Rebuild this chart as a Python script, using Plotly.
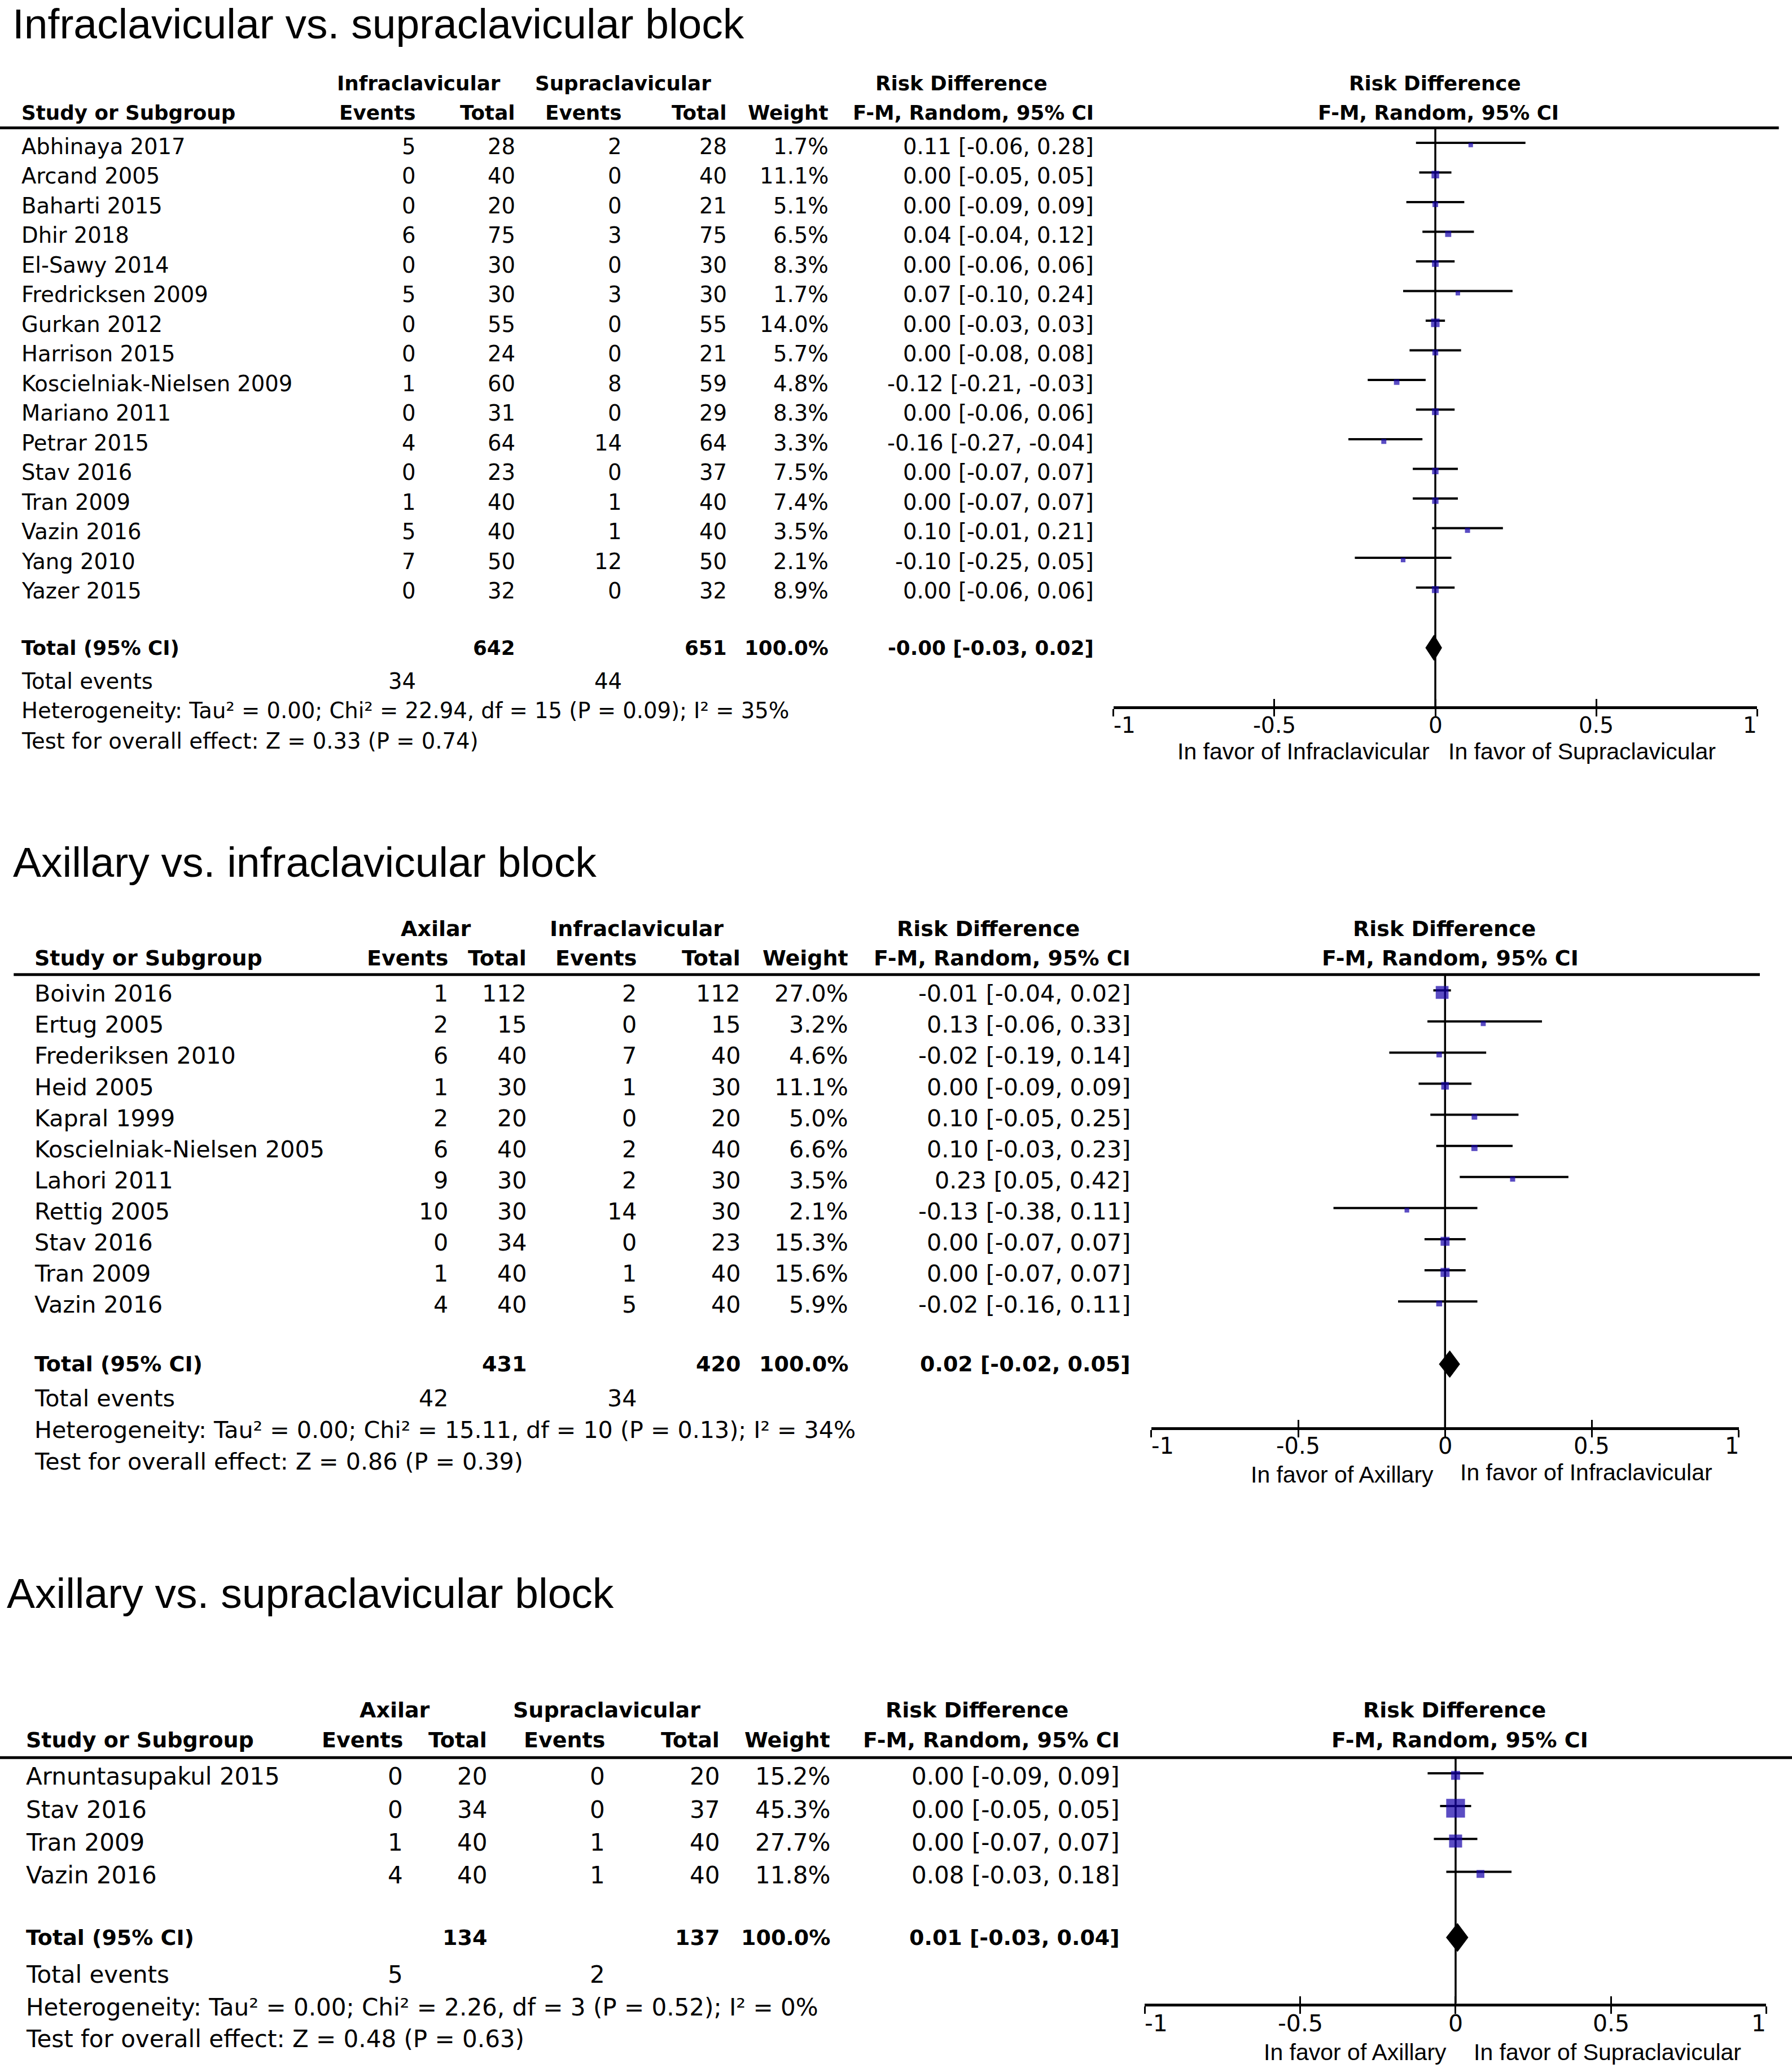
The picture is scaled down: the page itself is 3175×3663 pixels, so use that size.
import plotly.graph_objects as go

# ---------------- data ----------------
titles = ["Infraclavicular vs. supraclavicular block",
          "Axillary vs. infraclavicular block",
          "Axillary vs. supraclavicular block"]
group_a = ["Infraclavicular", "Axilar", "Axilar"]
group_b = ["Supraclavicular", "Infraclavicular", "Supraclavicular"]
favor_left = ["In favor of Infraclavicular", "In favor of Axillary", "In favor of Axillary"]
favor_right = ["In favor of Supraclavicular", "In favor of Infraclavicular", "In favor of Supraclavicular"]
col_headers = ["Study or Subgroup", "Events", "Total", "Events", "Total", "Weight", "F-M, Random, 95% CI"]
effect_label = "Risk Difference"
method_label = "F-M, Random, 95% CI"
tick_vals = [-1, -0.5, 0, 0.5, 1]
tick_text = ["-1", "-0.5", "0", "0.5", "1"]

studies1 = ["Abhinaya 2017", "Arcand 2005", "Baharti 2015", "Dhir 2018", "El-Sawy 2014",
            "Fredricksen 2009", "Gurkan 2012", "Harrison 2015", "Koscielniak-Nielsen 2009",
            "Mariano 2011", "Petrar 2015", "Stav 2016", "Tran 2009", "Vazin 2016",
            "Yang 2010", "Yazer 2015"]
events1_a = [5, 0, 0, 6, 0, 5, 0, 0, 1, 0, 4, 0, 1, 5, 7, 0]
total1_a = [28, 40, 20, 75, 30, 30, 55, 24, 60, 31, 64, 23, 40, 40, 50, 32]
events1_b = [2, 0, 0, 3, 0, 3, 0, 0, 8, 0, 14, 0, 1, 1, 12, 0]
total1_b = [28, 40, 21, 75, 30, 30, 55, 21, 59, 29, 64, 37, 40, 40, 50, 32]
weight1 = [1.7, 11.1, 5.1, 6.5, 8.3, 1.7, 14.0, 5.7, 4.8, 8.3, 3.3, 7.5, 7.4, 3.5, 2.1, 8.9]
rd1 = [0.11, 0.00, 0.00, 0.04, 0.00, 0.07, 0.00, 0.00, -0.12, 0.00, -0.16, 0.00, 0.00, 0.10, -0.10, 0.00]
lo1 = [-0.06, -0.05, -0.09, -0.04, -0.06, -0.10, -0.03, -0.08, -0.21, -0.06, -0.27, -0.07, -0.07, -0.01, -0.25, -0.06]
hi1 = [0.28, 0.05, 0.09, 0.12, 0.06, 0.24, 0.03, 0.08, -0.03, 0.06, -0.04, 0.07, 0.07, 0.21, 0.05, 0.06]

studies2 = ["Boivin 2016", "Ertug 2005", "Frederiksen 2010", "Heid 2005", "Kapral 1999",
            "Koscielniak-Nielsen 2005", "Lahori 2011", "Rettig 2005", "Stav 2016",
            "Tran 2009", "Vazin 2016"]
events2_a = [1, 2, 6, 1, 2, 6, 9, 10, 0, 1, 4]
total2_a = [112, 15, 40, 30, 20, 40, 30, 30, 34, 40, 40]
events2_b = [2, 0, 7, 1, 0, 2, 2, 14, 0, 1, 5]
total2_b = [112, 15, 40, 30, 20, 40, 30, 30, 23, 40, 40]
weight2 = [27.0, 3.2, 4.6, 11.1, 5.0, 6.6, 3.5, 2.1, 15.3, 15.6, 5.9]
rd2 = [-0.01, 0.13, -0.02, 0.00, 0.10, 0.10, 0.23, -0.13, 0.00, 0.00, -0.02]
lo2 = [-0.04, -0.06, -0.19, -0.09, -0.05, -0.03, 0.05, -0.38, -0.07, -0.07, -0.16]
hi2 = [0.02, 0.33, 0.14, 0.09, 0.25, 0.23, 0.42, 0.11, 0.07, 0.07, 0.11]

studies3 = ["Arnuntasupakul 2015", "Stav 2016", "Tran 2009", "Vazin 2016"]
events3_a = [0, 0, 1, 4]
total3_a = [20, 34, 40, 40]
events3_b = [0, 0, 1, 1]
total3_b = [20, 37, 40, 40]
weight3 = [15.2, 45.3, 27.7, 11.8]
rd3 = [0.00, 0.00, 0.00, 0.08]
lo3 = [-0.09, -0.05, -0.07, -0.03]
hi3 = [0.09, 0.05, 0.07, 0.18]

pooled_n_a = [642, 431, 134]
pooled_n_b = [651, 420, 137]
pooled_weight = [100.0, 100.0, 100.0]
pooled_rd = [-0.004, 0.016, 0.006]
pooled_lo = [-0.03, -0.02, -0.03]
pooled_hi = [0.02, 0.05, 0.04]
pooled_events_a = [34, 42, 5]
pooled_events_b = [44, 34, 2]
het_tau2 = [0.00, 0.00, 0.00]
het_chi2 = [22.94, 15.11, 2.26]
het_df = [15, 10, 3]
het_p = [0.09, 0.13, 0.52]
het_i2 = [35, 34, 0]
overall_z = [0.33, 0.86, 0.48]
overall_p = [0.74, 0.39, 0.63]

# ---------------- layout geometry (reference pixels / 2.3346) ----------------
W, H = 3175, 3663
WD = 1360.0
HD = H * WD / W
TABLE = "DejaVu Sans"
SANS = "Liberation Sans"
MARK = "#1400AA"

geo = [
    dict(title_x=9.6, title_y=18, hdr1=63, hdr2=85.3, line_y=97, line_x0=0, line_x1=1350,
         row0=111, step=22.49, total_y=491.5, events_y=517, het_y=539, test_y=562,
         name_x=16.2, cols=[315.5, 391, 472, 551.6, 629, 830], grpA=317.7, grpB=473, rdh=729.5,
         xm1=845, xp1=1333.6, axis_y=536, tick_y=550.4, favL=1085, favR=1099, fav_yL=570, fav_yR=570,
         fhdr1=1089, fhdr2=1091.6, fs=38.5, fb=35.7, ft=39),
    dict(title_x=10, title_y=654, hdr1=704.8, hdr2=727, line_y=739.4, line_x0=10.4, line_x1=1335.6,
         row0=754, step=23.6, total_y=1035, events_y=1061, het_y=1085, test_y=1109,
         name_x=26, cols=[340, 399.5, 483, 562, 644, 858], grpA=331, grpB=483, rdh=750,
         xm1=873.8, xp1=1319.6, axis_y=1083, tick_y=1097, favL=1088, favR=1108, fav_yL=1119, fav_yR=1117,
         fhdr1=1096, fhdr2=1100.5, fs=41.2, fb=38, ft=40),
    dict(title_x=5, title_y=1209, hdr1=1297.5, hdr2=1320, line_y=1333.6, line_x0=0, line_x1=1360,
         row0=1348, step=24.93, total_y=1470, events_y=1498, het_y=1523, test_y=1547,
         name_x=19.7, cols=[306, 369.5, 459, 546, 630, 850], grpA=299.5, grpB=460.5, rdh=741.5,
         xm1=868.9, xp1=1340.5, axis_y=1520, tick_y=1535, favL=1098, favR=1118.6, fav_yL=1557, fav_yR=1557,
         fhdr1=1104, fhdr2=1108, fs=42, fb=38, ft=41),
]

panels = [
    dict(names=studies1, ea=events1_a, ta=total1_a, eb=events1_b, tb=total1_b, w=weight1, rd=rd1, lo=lo1, hi=hi1),
    dict(names=studies2, ea=events2_a, ta=total2_a, eb=events2_b, tb=total2_b, w=weight2, rd=rd2, lo=lo2, hi=hi2),
    dict(names=studies3, ea=events3_a, ta=total3_a, eb=events3_b, tb=total3_b, w=weight3, rd=rd3, lo=lo3, hi=hi3),
]

annotations, shapes, traces = [], [], []
layout_axes = {}


def txt(xd, yd, s, size, anchor="left", bold=False, family=TABLE, xref="paper", xval=None, xshift=0):
    annotations.append(dict(
        x=(xd / WD) if xref == "paper" else xval, y=1 - yd / HD, xref=xref, yref="paper",
        text=f"<b>{s}</b>" if bold else s, showarrow=False, xanchor=anchor, yanchor="middle",
        xshift=xshift, borderpad=0, borderwidth=0,
        font=dict(family=family, size=size, color="black")))


def ci(rd, lo, hi):
    return f"{rd:.2f} [{lo:.2f}, {hi:.2f}]"


for n, (p, g) in enumerate(zip(panels, geo), start=1):
    xn = "x" if n == 1 else f"x{n}"
    yn = "y" if n == 1 else f"y{n}"
    xo = f"x{n + 3}"
    fs, fb = g["fs"], g["fb"]
    c = g["cols"]

    # title
    txt(g["title_x"], g["title_y"], titles[n - 1], 75, family=SANS)
    # headers
    txt(g["grpA"], g["hdr1"], group_a[n - 1], fb, "center", True)
    txt(g["grpB"], g["hdr1"], group_b[n - 1], fb, "center", True)
    txt(g["rdh"], g["hdr1"], effect_label, fb, "center", True)
    txt(g["fhdr1"], g["hdr1"], effect_label, fb, "center", True)
    txt(g["name_x"], g["hdr2"], col_headers[0], fb, "left", True)
    for j in range(6):
        txt(c[j], g["hdr2"], col_headers[j + 1], fb, "right", True)
    txt(g["fhdr2"], g["hdr2"], method_label, fb, "center", True)

    # study rows
    for i, name in enumerate(p["names"]):
        yy = g["row0"] + i * g["step"]
        txt(g["name_x"], yy, name, fs)
        vals = [str(p["ea"][i]), str(p["ta"][i]), str(p["eb"][i]), str(p["tb"][i]),
                f"{p['w'][i]:.1f}%", ci(p["rd"][i], p["lo"][i], p["hi"][i])]
        for j, v in enumerate(vals):
            txt(c[j], yy, v, fs, "right")

    # totals
    k = n - 1
    txt(g["name_x"], g["total_y"], "Total (95% CI)", fb, "left", True)
    txt(c[1], g["total_y"], str(pooled_n_a[k]), fb, "right", True)
    txt(c[3], g["total_y"], str(pooled_n_b[k]), fb, "right", True)
    txt(c[4], g["total_y"], f"{pooled_weight[k]:.1f}%", fb, "right", True)
    txt(c[5], g["total_y"], ci(pooled_rd[k], pooled_lo[k], pooled_hi[k]), fb, "right", True)
    txt(g["name_x"], g["events_y"], "Total events", fs)
    txt(c[0], g["events_y"], str(pooled_events_a[k]), fs, "right")
    txt(c[2], g["events_y"], str(pooled_events_b[k]), fs, "right")
    txt(g["name_x"], g["het_y"],
        f"Heterogeneity: Tau² = {het_tau2[k]:.2f}; Chi² = {het_chi2[k]:.2f}, df = {het_df[k]} "
        f"(P = {het_p[k]:.2f}); I² = {het_i2[k]}%", fs)
    txt(g["name_x"], g["test_y"],
        f"Test for overall effect: Z = {overall_z[k]:.2f} (P = {overall_p[k]:.2f})", fs)

    # favour labels
    txt(g["favL"], g["fav_yL"], favor_left[k], 41, "right", family=SANS)
    txt(g["favR"], g["fav_yR"], favor_right[k], 41, "left", family=SANS)

    # tick labels
    for t, lab in zip(tick_vals, tick_text):
        anc = "left" if t == tick_vals[0] else ("right" if t == tick_vals[-1] else "center")
        txt(0, g["tick_y"], lab, g["ft"], anc, xref=xn, xval=t)

    # axes
    step = g["step"]
    layout_axes["xaxis" if n == 1 else f"xaxis{n}"] = dict(
        domain=[g["xm1"] / WD, g["xp1"] / WD], range=[-1, 1], anchor=yn,
        showline=True, linewidth=5, linecolor="black", ticks="outside", ticklen=13,
        tickwidth=3, tickcolor="black", tickvals=tick_vals, showticklabels=False,
        showgrid=False, zeroline=False, fixedrange=True)
    layout_axes[f"xaxis{n + 3}"] = dict(
        overlaying=xn, range=[-1, 1], anchor=yn, ticks="inside", ticklen=13, tickwidth=3,
        tickcolor="black", tickvals=tick_vals, showticklabels=False, showline=False,
        showgrid=False, zeroline=False, fixedrange=True)
    layout_axes["yaxis" if n == 1 else f"yaxis{n}"] = dict(
        domain=[1 - g["axis_y"] / HD, 1 - g["line_y"] / HD],
        range=[(g["axis_y"] - g["row0"]) / step, (g["line_y"] - g["row0"]) / step],
        visible=False, fixedrange=True)

    # header rule and zero line
    shapes.append(dict(type="line", xref="paper", yref="paper",
                       x0=g["line_x0"] / WD, x1=g["line_x1"] / WD,
                       y0=1 - g["line_y"] / HD, y1=1 - g["line_y"] / HD,
                       line=dict(color="black", width=5)))
    shapes.append(dict(type="line", xref=xn, yref=f"{yn} domain", x0=0, x1=0, y0=0, y1=1,
                       line=dict(color="black", width=3.5), layer="below"))

    # whiskers
    wx, wy = [], []
    for i in range(len(p["names"])):
        yi = i - 2.6 / step
        wx += [p["lo"][i], p["hi"][i], None]
        wy += [yi, yi, None]
    traces.append(go.Scatter(x=wx, y=wy, xaxis=xn, yaxis=yn, mode="lines",
                             line=dict(color="black", width=4), hoverinfo="skip", showlegend=False))
    # study markers (square size grows with weight)
    traces.append(go.Scatter(x=p["rd"], y=[i - 1.0 / step for i in range(len(p["names"]))],
                             xaxis=xn, yaxis=yn, mode="markers",
                             marker=dict(symbol="square", color=MARK,
                                         size=[7 + 0.58 * w for w in p["w"]], line=dict(width=0)),
                             hoverinfo="skip", showlegend=False))
    # pooled diamond
    ty = (g["total_y"] - g["row0"]) / step
    hh = 0.43
    traces.append(go.Scatter(x=[pooled_lo[k], pooled_rd[k], pooled_hi[k], pooled_rd[k], pooled_lo[k]],
                             y=[ty, ty - hh, ty, ty + hh, ty], xaxis=xn, yaxis=yn, mode="lines",
                             fill="toself", fillcolor="black", line=dict(color="black", width=1),
                             hoverinfo="skip", showlegend=False))
    # dummy trace so the overlay tick axis is drawn
    traces.append(go.Scatter(x=[0], y=[0], xaxis=xo, yaxis=yn, mode="markers",
                             marker=dict(opacity=0), hoverinfo="skip", showlegend=False))

fig = go.Figure(data=traces)
fig.update_layout(width=W, height=H, autosize=False, margin=dict(l=0, r=0, t=0, b=0),
                  paper_bgcolor="white", plot_bgcolor="white", showlegend=False,
                  hovermode=False, annotations=annotations, shapes=shapes, **layout_axes)
fig.write_html("out.html", config={"displayModeBar": False},
               post_script="document.body.style.margin='0px';")
